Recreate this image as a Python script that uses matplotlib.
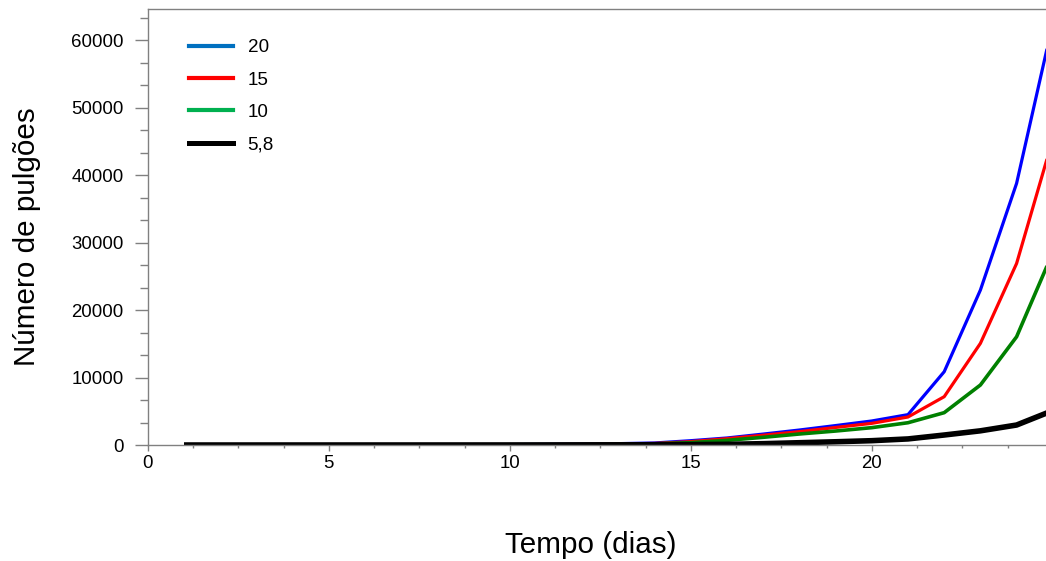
import matplotlib.pyplot as plt
import numpy as np
from matplotlib.ticker import MultipleLocator
from matplotlib.lines import Line2D

plt.rcParams['font.family'] = ['Liberation Sans', 'DejaVu Sans']

# dias de 1 a 25
dias = np.arange(1, 26)

pulgoes_20 = [1, 2, 3, 5, 8, 12, 18, 27, 40, 60, 90, 135, 200, 300,
              640, 1040, 1620, 2220, 2880, 3560, 4500, 10860, 22960, 38770, 62500]
pulgoes_15 = [1, 2, 3, 4, 6, 9, 13, 20, 30, 45, 68, 100, 150, 230,
              500, 940, 1450, 1980, 2600, 3210, 4150, 7160, 15060, 26900, 45330]
pulgoes_10 = [1, 1, 2, 3, 5, 7, 10, 15, 22, 33, 50, 75, 110, 170,
              350, 690, 1140, 1630, 2070, 2570, 3300, 4790, 8890, 16040, 28520]
pulgoes_58 = [0, 0, 0, 1, 1, 2, 3, 4, 6, 8, 11, 16, 25, 40,
              60, 100, 200, 340, 480, 640, 900, 1480, 2100, 2960, 5100]

rotulos = ['20', '15', '10', '5,8']
cores_linha = ['#0000ff', '#ff0000', '#008000', '#000000']
cores_legenda = ['#0070c0', '#ff0000', '#00b050', '#000000']
larguras = [2.3, 2.3, 2.6, 4.0]

fig = plt.figure(figsize=(10.46, 5.61), dpi=100)
ax = fig.add_axes([147.8 / 1046, 1 - 445 / 561, (1046 - 147.8) / 1046, 436 / 561])

series = [pulgoes_20, pulgoes_15, pulgoes_10, pulgoes_58]
for valores, cor, lw in zip(series, cores_linha, larguras):
    ax.plot(dias, valores, color=cor, lw=lw, solid_capstyle='butt')

ax.set_xlim(0, (1046 - 147.8) / 36.2)
ax.set_ylim(0, 64600)
ax.xaxis.set_major_locator(MultipleLocator(5))
ax.xaxis.set_minor_locator(MultipleLocator(1.25))
ax.yaxis.set_major_locator(MultipleLocator(10000))
ax.yaxis.set_minor_locator(MultipleLocator(10000 / 3))

cinza = '#808080'
for lado in ['left', 'bottom', 'top']:
    ax.spines[lado].set_color(cinza)
    ax.spines[lado].set_linewidth(1.0)
ax.spines['right'].set_visible(False)

ax.tick_params(axis='y', which='major', length=9.4, width=1, color=cinza,
               labelsize=13.4, pad=8)
ax.tick_params(axis='y', which='minor', length=5.8, width=1, color=cinza)
ax.tick_params(axis='x', which='major', length=4.3, width=1, color=cinza,
               labelsize=13.4, pad=3)
ax.tick_params(axis='x', which='minor', length=2.2, width=1, color=cinza)

fig.text(591 / 1046, 1 - 545 / 561, 'Tempo (dias)', fontsize=21.3,
         ha='center', va='center')
fig.text(27 / 1046, 1 - 237 / 561, 'Número de pulgões', fontsize=21.3,
         ha='center', va='center', rotation=90)

handles = [Line2D([], [], color=c, lw=3.0 if c != '#000000' else 3.6)
           for c in cores_legenda]
ax.legend(handles, rotulos, loc='upper left', frameon=False,
          bbox_to_anchor=(189 / 1046, 1 - 39 / 561), bbox_transform=fig.transFigure,
          fontsize=13.6, handlelength=2.35, handletextpad=0.75,
          labelspacing=0.8, borderpad=0, borderaxespad=0)

fig.savefig('out.png', dpi=100)
